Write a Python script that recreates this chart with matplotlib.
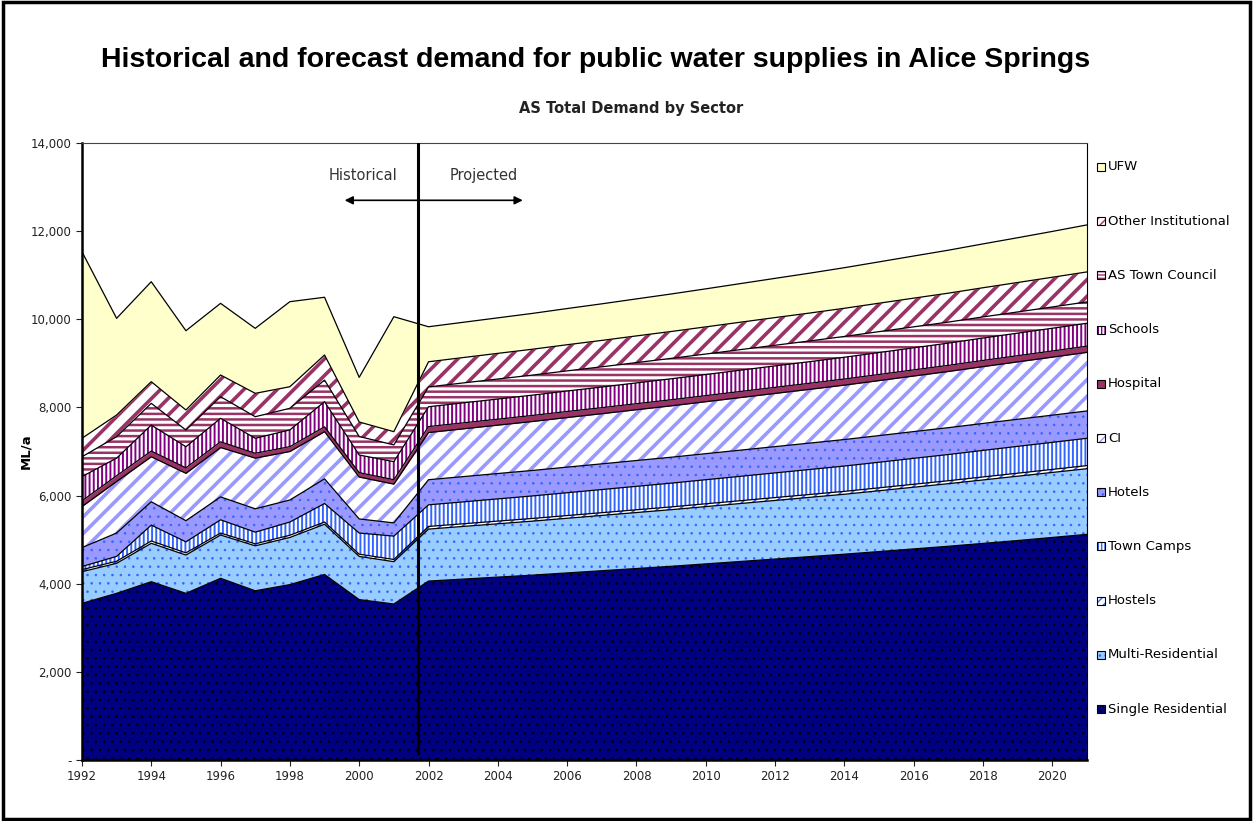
import numpy as np
import matplotlib.pyplot as plt
from matplotlib.patches import Rectangle

# values, ML/a per sector (stacked bottom -> top)
years = list(range(1992, 2022))

single_res = [3555, 3782, 4046, 3782, 4123, 3840, 3980, 4210, 3640, 3540,
              4060, 4105, 4150, 4195, 4245, 4295, 4345, 4395, 4450, 4505,
              4560, 4615, 4670, 4730, 4790, 4850, 4915, 4980, 5050, 5120]
multi_res = [718, 681, 871, 869, 982, 1020, 1070, 1140, 980, 960,
             1180, 1195, 1210, 1225, 1240, 1255, 1270, 1285, 1300, 1315,
             1330, 1345, 1360, 1380, 1400, 1420, 1440, 1460, 1475, 1490]
hostels = [47, 47, 53, 49, 45, 45, 50, 50, 50, 50,
           60, 60, 61, 61, 62, 62, 63, 63, 64, 64,
           65, 65, 66, 66, 67, 67, 68, 68, 69, 70]
town_camps = [70, 110, 360, 250, 300, 265, 300, 420, 480, 530,
              490, 497, 504, 511, 518, 525, 532, 539, 546, 553,
              560, 567, 574, 581, 588, 595, 602, 609, 614, 620]
hotels = [430, 530, 530, 480, 520, 530, 500, 560, 320, 300,
          570, 573, 576, 578, 581, 583, 586, 588, 591, 594,
          596, 599, 602, 604, 607, 609, 612, 615, 617, 620]
ci = [930, 1170, 1020, 1075, 1120, 1150, 1100, 1070, 950, 880,
      1070, 1084, 1097, 1111, 1125, 1138, 1152, 1166, 1179, 1193,
      1207, 1220, 1234, 1248, 1261, 1275, 1289, 1302, 1316, 1330]
hospital = [130, 130, 130, 125, 130, 110, 110, 110, 100, 100,
            136, 136, 136, 137, 137, 137, 137, 138, 138, 138,
            138, 138, 139, 139, 139, 139, 140, 140, 140, 140]
schools = [550, 400, 590, 479, 533, 340, 380, 570, 400, 410,
           450, 454, 457, 461, 465, 468, 472, 476, 479, 483,
           487, 490, 494, 498, 501, 505, 509, 512, 516, 520]
town_council = [450, 486, 493, 379, 490, 490, 490, 490, 420, 380,
                450, 452, 454, 455, 457, 459, 461, 463, 465, 467,
                468, 470, 472, 474, 476, 477, 479, 481, 483, 485]
other_inst = [420, 492, 491, 454, 493, 530, 490, 570, 330, 300,
              570, 576, 582, 587, 593, 599, 605, 610, 616, 622,
              628, 633, 639, 645, 651, 656, 662, 668, 674, 680]
ufw = [4234, 2194, 2269, 1799, 1626, 1475, 1930, 1310, 1013, 2609,
       795, 800, 806, 813, 821, 830, 840, 851, 863, 876,
       890, 905, 921, 938, 956, 975, 995, 1016, 1040, 1067]

names = ['Single Residential', 'Multi-Residential', 'Hostels', 'Town Camps', 'Hotels',
         'CI', 'Hospital', 'Schools', 'AS Town Council', 'Other Institutional', 'UFW']
series = [single_res, multi_res, hostels, town_camps, hotels,
          ci, hospital, schools, town_council, other_inst, ufw]

# fill colour, hatch colour, hatch, hatch linewidth
faces = ['#000080', '#99CCFF', 'white', 'white', '#9999FF',
         'white', '#993366', 'white', 'white', 'white', '#FFFFCC']
hcols = ['black', '#3366FF', '#3366FF', '#3366FF', '#3366FF',
         '#9999FF', '#993366', '#800080', '#993366', '#993366', '#FFFFCC']
hatches = ['..', '..', '///', '||||', '..',
           '//', None, '||||', '---', '//', None]
hlw = [0.6, 0.6, 1.4, 1.4, 0.6, 2.6, 1.0, 1.4, 1.8, 2.6, 1.0]
# denser versions for the tiny legend boxes
leg_hatches = ['...', '...', '////', '|||||', '...',
               '////', None, '|||||', '-----', '////', None]

fig = plt.figure(figsize=(12.53, 8.21), dpi=100)
ax = fig.add_axes([0.0654, 0.0743, 0.8021, 0.7515])

stack = np.cumsum(np.vstack(series), axis=0)
base = np.zeros(len(years))
for i in range(len(series)):
    plt.rcParams['hatch.linewidth'] = hlw[i]
    ax.fill_between(years, base, stack[i], facecolor=faces[i], edgecolor=hcols[i],
                    hatch=hatches[i], linewidth=0, zorder=2)
    ax.plot(years, stack[i], color='black', linewidth=0.9, zorder=3)
    base = stack[i]

ax.set_xlim(1992, 2021)
ax.set_ylim(0, 14000)
ax.set_xticks(range(1992, 2021, 2))
ax.set_yticks(range(0, 14001, 2000))
ax.set_yticklabels(['-'] + ['{:,}'.format(v) for v in range(2000, 14001, 2000)])
ax.tick_params(direction='out', length=4, labelsize=8.5, colors='#222222')
ax.set_ylabel('ML/a', fontsize=9.5, fontweight='bold')
ax.yaxis.set_label_coords(-0.049, 0.5)

for s in ['left', 'bottom']:
    ax.spines[s].set_linewidth(1.8)
ax.spines['top'].set_linewidth(0.8)
ax.spines['top'].set_color('#444444')
ax.spines['right'].set_linewidth(0.8)

# historical / projected split
ax.axvline(2001.7, ymin=0.012, ymax=1, color='black', linewidth=2.2, zorder=4)
ax.annotate('', xy=(1999.5, 12700), xytext=(2004.8, 12700),
            arrowprops=dict(arrowstyle='<|-|>', color='black', lw=1.2, mutation_scale=12))
ax.text(2000.1, 13270, 'Historical', ha='center', va='center', fontsize=10.5, color='#333333')
ax.text(2003.6, 13270, 'Projected', ha='center', va='center', fontsize=10.5, color='#333333')

fig.text(0.475, 0.927, 'Historical and forecast demand for public water supplies in Alice Springs',
         ha='center', va='center', fontsize=20.5, fontweight='bold', family='Liberation Sans')
fig.text(0.504, 0.868, 'AS Total Demand by Sector', ha='center', va='center',
         fontsize=10.5, fontweight='bold', color='#222222')

# legend drawn by hand, UFW on top
for i in range(len(names)):
    ypix = 709 - i * 54.2
    x0 = 1097 / 1253
    y0 = 1 - (ypix + 4) / 821
    plt.rcParams['hatch.linewidth'] = 1.0
    fig.patches.append(Rectangle((x0, y0), 8 / 1253, 8 / 821, transform=fig.transFigure,
                                 facecolor=faces[i], edgecolor=hcols[i], hatch=leg_hatches[i],
                                 linewidth=0))
    fig.patches.append(Rectangle((x0, y0), 8 / 1253, 8 / 821, transform=fig.transFigure,
                                 fill=False, edgecolor='black', linewidth=0.8))
    fig.text(1108 / 1253, 1 - ypix / 821, names[i], ha='left', va='center', fontsize=9.5)

# outer frame
fig.patches.append(Rectangle((0.002, 0.003), 0.996, 0.994, transform=fig.transFigure,
                             fill=False, edgecolor='black', linewidth=2.5))

fig.savefig('out.png', dpi=100)
